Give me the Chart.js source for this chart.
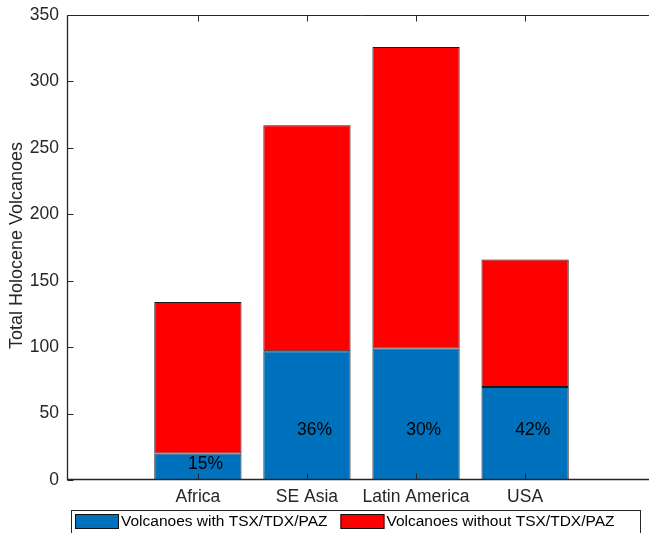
<!DOCTYPE html>
<html>
<head>
<meta charset="utf-8">
<script src="https://cdn.jsdelivr.net/npm/chart.js@4.4.0/dist/chart.umd.min.js"></script>
<style>
  html, body { margin: 0; padding: 0; overflow: hidden; background: #fff; }
  #wrap { width: 656px; height: 533px; }
</style>
</head>
<body>
<div id="wrap"><canvas id="chart"></canvas></div>
<script>
// datos
const regions = ["Africa", "SE Asia", "Latin America", "USA"];
const withSar = [20, 97, 99, 70];
const withoutSar = [114, 170, 227, 96];
const percentLabels = ["15%", "36%", "30%", "42%"];
const yTicks = [0, 50, 100, 150, 200, 250, 300, 350];

const FONT = "'Liberation Sans', Arial, Helvetica, sans-serif";
const axisColor = "#262626";
const blue = "#0072BD";
const red = "#FF0000";

// marco estilo MATLAB, ticks hacia dentro, etiquetas y leyenda
const matlabFrame = {
  id: "matlabFrame",
  afterDatasetsDraw(chart) {
    const { ctx, chartArea: a, scales } = chart;
    const x = scales.x, y = scales.y;
    ctx.save();

    // porcentajes dentro de las barras
    ctx.fillStyle = "#000";
    ctx.font = "17.5px " + FONT;
    ctx.textAlign = "center";
    ctx.textBaseline = "middle";
    regions.forEach((r, i) => {
      const yv = Math.min(37.5, withSar[i] * 0.6);
      ctx.fillText(percentLabels[i], x.getPixelForValue(i + 1.07), y.getPixelForValue(yv));
    });

    // caja y ticks
    ctx.strokeStyle = axisColor;
    ctx.lineWidth = 1;
    const L = Math.round(a.left) + 0.5, R = Math.round(a.right) - 0.5;
    const T = Math.round(a.top) + 0.5, B = Math.round(a.bottom) - 0.5;
    ctx.beginPath();
    ctx.moveTo(L, T); ctx.lineTo(R, T); ctx.lineTo(R, B); ctx.lineTo(L, B); ctx.closePath();
    const tl = 6;
    yTicks.forEach((v) => {
      const py = Math.round(y.getPixelForValue(v)) + 0.5;
      ctx.moveTo(L, py); ctx.lineTo(L + tl, py);
      ctx.moveTo(R, py); ctx.lineTo(R - tl, py);
    });
    regions.forEach((r, i) => {
      const px = Math.round(x.getPixelForValue(i + 1)) + 0.5;
      ctx.moveTo(px, B); ctx.lineTo(px, B - tl);
      ctx.moveTo(px, T); ctx.lineTo(px, T + tl);
    });
    ctx.stroke();
    ctx.lineWidth = 1.3;
    ctx.beginPath();
    ctx.moveTo(L, T); ctx.lineTo(L, B); ctx.lineTo(R, B);
    ctx.stroke();

    // título eje Y
    ctx.fillStyle = axisColor;
    ctx.font = "18px " + FONT;
    ctx.translate(17, (a.top + a.bottom) / 2 - 2);
    ctx.rotate(-Math.PI / 2);
    ctx.textAlign = "center";
    ctx.textBaseline = "middle";
    ctx.fillText("Total Holocene Volcanoes", 0, 0);
    ctx.setTransform(1, 0, 0, 1, 0, 0);

    // leyenda
    ctx.strokeStyle = axisColor;
    ctx.lineWidth = 1;
    ctx.strokeRect(71.5, 510.5, 569, 40);
    ctx.font = "15.5px " + FONT;
    ctx.textAlign = "left";
    ctx.textBaseline = "middle";
    let cx = 75;
    chart.data.datasets.forEach((ds) => {
      ctx.fillStyle = ds.backgroundColor;
      ctx.fillRect(cx, 514, 44, 15);
      ctx.strokeStyle = "#111";
      ctx.strokeRect(cx + 0.5, 514.5, 43, 14);
      ctx.fillStyle = "#000";
      ctx.fillText(ds.label, cx + 46, 522);
      cx += 46 + ctx.measureText(ds.label).width + 13;
    });
    ctx.restore();
  },
};

const ctx = document.getElementById("chart").getContext("2d");
new Chart(ctx, {
  type: "bar",
  data: {
    datasets: [
      {
        label: "Volcanoes with TSX/TDX/PAZ",
        data: withSar.map((v, i) => ({ x: i + 1, y: v })),
        backgroundColor: blue,
        borderColor: "#1a1a1a",
        borderWidth: 1,
        borderSkipped: false,
      },
      {
        label: "Volcanoes without TSX/TDX/PAZ",
        data: withoutSar.map((v, i) => ({ x: i + 1, y: v })),
        backgroundColor: red,
        borderColor: "#1a1a1a",
        borderWidth: 1,
        borderSkipped: false,
      },
    ],
  },
  options: {
    responsive: true,
    maintainAspectRatio: false,
    animation: false,
    layout: { padding: { top: 15, right: 0, left: 0, bottom: 0 } },
    datasets: { bar: { barPercentage: 0.8, categoryPercentage: 1 } },
    plugins: { legend: { display: false }, tooltip: { enabled: false } },
    scales: {
      x: {
        type: "linear",
        stacked: true,
        offset: false,
        min: -0.2,
        max: 5.2,
        grid: { display: false, drawTicks: false, offset: false },
        border: { display: false },
        afterBuildTicks: (axis) => {
          axis.ticks = regions.map((r, i) => ({ value: i + 1 }));
        },
        afterFit: (axis) => {
          axis.height = 53;
          axis.paddingLeft = 0;
          axis.paddingRight = 0;
        },
        ticks: {
          autoSkip: false,
          maxRotation: 0,
          padding: 7,
          color: axisColor,
          font: { family: FONT, size: 17.5 },
          callback: (v) => regions[v - 1],
        },
      },
      y: {
        stacked: true,
        min: 0,
        max: 350,
        grid: { display: false, drawTicks: false },
        border: { display: false },
        afterBuildTicks: (axis) => {
          axis.ticks = yTicks.map((v) => ({ value: v }));
        },
        afterFit: (axis) => {
          axis.width = 67;
          axis.paddingTop = 0;
          axis.paddingBottom = 0;
        },
        ticks: {
          padding: 8,
          color: axisColor,
          font: { family: FONT, size: 17.5 },
        },
      },
    },
  },
  plugins: [matlabFrame],
});
</script>
</body>
</html>
